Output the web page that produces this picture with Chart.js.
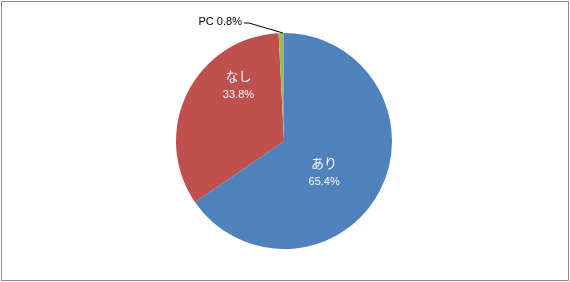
<!DOCTYPE html>
<html><head><meta charset="utf-8">
<script src="https://cdn.jsdelivr.net/npm/chart.js@4"></script>
<style>
html,body{margin:0;padding:0;background:#fff;}
#wrap{position:relative;width:570px;height:282px;}
#frame{position:absolute;left:1px;top:1px;width:566px;height:278px;border:1px solid #8c8c8c;box-sizing:content-box;pointer-events:none;}
canvas{position:absolute;left:0;top:0;}
</style>
</head><body>
<div id="wrap"><canvas id="c" width="570" height="282"></canvas><div id="frame"></div></div>
<script>
const categories = ['あり', 'なし', 'PC'];
const values = [65.4, 33.8, 0.8];
const colors = ['#4F81BD', '#C0504D', '#9BBB59'];

const labelPlugin = {
  id: 'sliceLabels',
  afterDatasetsDraw(chart) {
    const ctx = chart.ctx;
    const meta = chart.getDatasetMeta(0);
    const total = values.reduce((a, b) => a + b, 0);
    // placement per slice: [angle (deg, canvas), radius fraction]
    const place = [[37.8, 0.47], [231, 0.67]];
    meta.data.forEach((arc, i) => {
      const pct = (values[i] / total * 100).toFixed(1) + '%';
      if (i < 2) {
        const a = place[i][0] * Math.PI / 180;
        const cx = arc.x + Math.cos(a) * arc.outerRadius * place[i][1];
        const cy = arc.y + Math.sin(a) * arc.outerRadius * place[i][1];
        ctx.save();
        ctx.fillStyle = '#ffffff';
        ctx.textAlign = 'center';
        ctx.textBaseline = 'middle';
        ctx.font = '13px "Noto Sans CJK JP"';
        ctx.fillText(categories[i], cx, cy - 9);
        ctx.font = '11px "Liberation Sans", Arial';
        ctx.fillText(pct, cx, cy + 10);
        ctx.restore();
      } else {
        const mid = (arc.startAngle + arc.endAngle) / 2;
        const tx = arc.x + Math.cos(arc.endAngle - 0.01) * arc.outerRadius;
        const ty = arc.y + Math.sin(arc.endAngle - 0.01) * arc.outerRadius;
        const lx = tx - 39, ly = ty - 10;
        ctx.save();
        ctx.strokeStyle = '#000';
        ctx.lineWidth = 1;
        ctx.beginPath();
        ctx.moveTo(lx, ly);
        ctx.lineTo(lx + 5, ly);
        ctx.lineTo(tx, ty);
        ctx.stroke();
        ctx.fillStyle = '#000';
        ctx.textAlign = 'right';
        ctx.textBaseline = 'middle';
        ctx.font = '11px "Liberation Sans", Arial';
        ctx.fillText(categories[i] + ' ' + pct, lx - 2, ly - 1);
        ctx.restore();
      }
    });
  }
};

new Chart(document.getElementById('c'), {
  type: 'pie',
  data: {
    labels: categories,
    datasets: [{ data: values, backgroundColor: colors, borderWidth: 0 }]
  },
  options: {
    responsive: false,
    animation: false,
    layout: { padding: { top: 33, bottom: 33, left: 0, right: 2 } },
    plugins: { legend: { display: false }, tooltip: { enabled: false } }
  },
  plugins: [labelPlugin]
});
</script>
</body></html>
